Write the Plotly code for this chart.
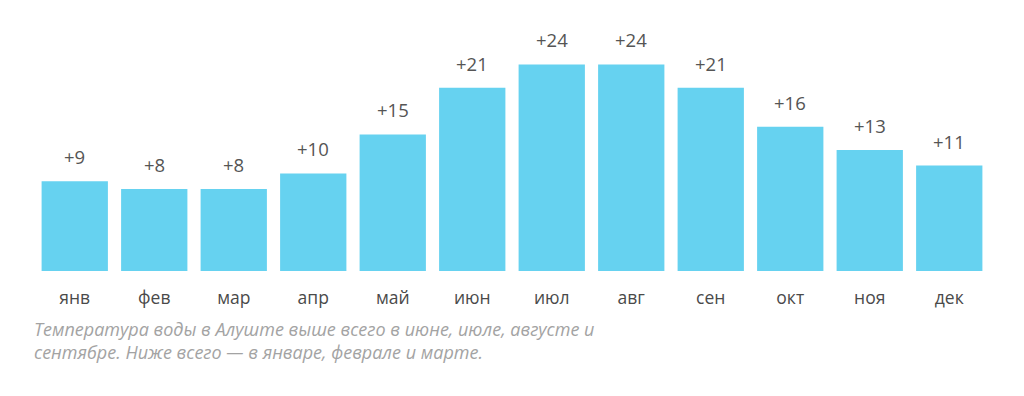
import plotly.graph_objects as go

months = ["янв", "фев", "мар", "апр", "май", "июн", "июл", "авг", "сен", "окт", "ноя", "дек"]
temps = [9, 8, 8, 10, 15, 21, 24, 24, 21, 16, 13, 11]
labels = ["+%d" % t for t in temps]
caption = "Температура воды в Алуште выше всего в июне, июле, августе и<br>сентябре. Ниже всего — в январе, феврале и марте."

BASE = -2.54

fig = go.Figure()
fig.add_trace(go.Bar(
    x=months,
    y=[t - BASE for t in temps],
    base=BASE,
    marker=dict(color="#66d2f0", line=dict(width=0)),
    hoverinfo="skip",
))

for m, t, lab in zip(months, temps, labels):
    fig.add_annotation(x=m, y=t, text=lab, showarrow=False, yanchor="bottom",
                       yshift=10, font=dict(family="Open Sans", size=18.5, color="#555555"))

fig.add_annotation(xref="paper", yref="paper", x=0, y=0, xanchor="left", yanchor="top",
                   xshift=-3, yshift=-44, align="left", text=caption, showarrow=False,
                   font=dict(family="Open Sans", size=18, color="#a3a3a3", style="italic"))

fig.update_layout(
    width=1016, height=388,
    margin=dict(l=27.3, r=35.3, t=12, b=124.5),
    paper_bgcolor="white", plot_bgcolor="white",
    bargap=0.166,
    showlegend=False,
    xaxis=dict(showgrid=False, showline=False, zeroline=False, ticks="outside", ticklen=11,
               tickcolor="rgba(0,0,0,0)",
               tickfont=dict(family="Open Sans", size=17.5, color="#4a4a4a")),
    yaxis=dict(visible=False, range=[BASE, BASE + 251.5 / 7.8]),
)

fig.write_html("out.html")
